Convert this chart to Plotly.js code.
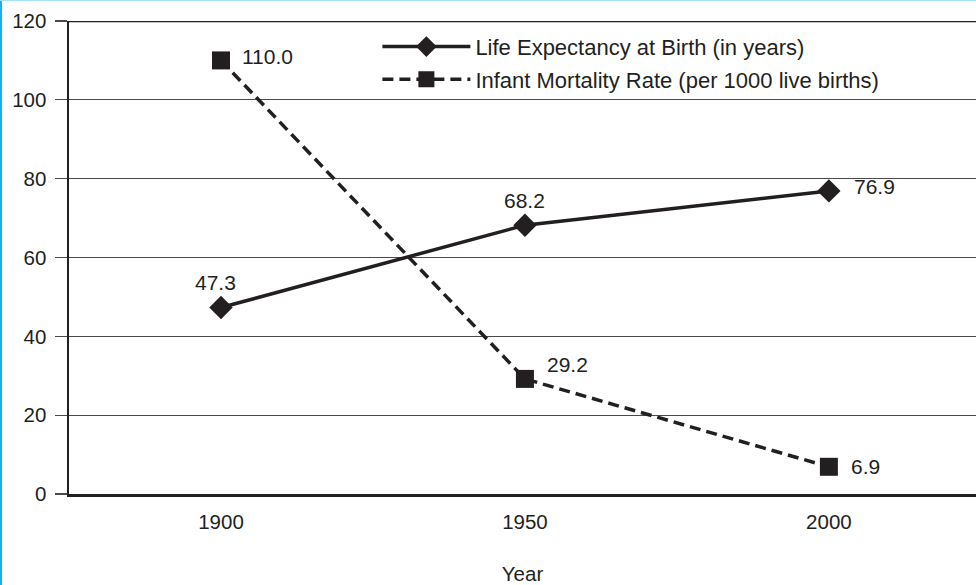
<!DOCTYPE html>
<html><head><meta charset="utf-8">
<script src="https://cdn.plot.ly/plotly-3.0.1.min.js"></script>
<style>
html,body{margin:0;padding:0;background:#fff;}
#wrap{position:relative;width:976px;height:585px;overflow:hidden;}
#edgeL{position:absolute;left:0;top:0;width:2px;height:585px;background:#1ab0ea;z-index:5;}
#edgeT{position:absolute;left:0;top:0;width:976px;height:1px;background:#a6e3f7;z-index:5;}
#chart{width:976px;height:585px;}
</style></head>
<body><div id="wrap"><div id="edgeL"></div><div id="edgeT"></div><div id="chart"></div></div>
<script>
const years = [1900, 1950, 2000];
const lifeExpectancy = [47.3, 68.2, 76.9];
const infantMortality = [110.0, 29.2, 6.9];
const yTicks = [0, 20, 40, 60, 80, 100, 120];
const seriesNames = ["Life Expectancy at Birth (in years)", "Infant Mortality Rate (per 1000 live births)"];

const ink = '#231f20';
const fam = 'Liberation Sans, Arial, sans-serif';
const font = {family: fam, size: 21, color: ink};
const legendFont = {family: fam, size: 22, color: ink};
const tickFont = {family: fam, size: 20.5, color: ink};

const traces = [
  {x: years, y: lifeExpectancy, name: seriesNames[0], legendgroup: 'a', type: 'scatter', mode: 'lines+markers',
   line: {color: ink, width: 3.5}, marker: {symbol: 'diamond', size: 18, color: ink}, hoverinfo: 'none'},
  {x: years, y: infantMortality, name: seriesNames[1], legendgroup: 'b', type: 'scatter', mode: 'lines+markers',
   line: {color: ink, width: 3.5, dash: '11px,6px'}, marker: {symbol: 'square', size: 18, color: ink}, hoverinfo: 'none'}
];

// label placement (styling only): [xanchor, xshift, yshift]
const lifePlace = [['center', -5, 25], ['center', 0, 25], ['left', 23, 4]];
const infPlace = [['left', 19, 4], ['left', 20, 14], ['left', 20, 0]];
const annotations = [];
years.forEach((yr, i) => {
  annotations.push({x: yr, y: lifeExpectancy[i], xref: 'x', yref: 'y', text: lifeExpectancy[i].toFixed(1),
    showarrow: false, font: font, xanchor: lifePlace[i][0], yanchor: 'middle', xshift: lifePlace[i][1], yshift: lifePlace[i][2]});
  annotations.push({x: yr, y: infantMortality[i], xref: 'x', yref: 'y', text: infantMortality[i].toFixed(1),
    showarrow: false, font: font, xanchor: infPlace[i][0], yanchor: 'middle', xshift: infPlace[i][1], yshift: infPlace[i][2]});
});

const layout = {
  width: 976, height: 585,
  margin: {l: 69, r: 0, t: 21, b: 91},
  paper_bgcolor: '#fff', plot_bgcolor: '#fff',
  font: font,
  showlegend: true,
  legend: {x: 0.34, y: 0.99, xanchor: 'left', yanchor: 'top', bgcolor: 'rgba(0,0,0,0)',
           font: legendFont, tracegroupgap: 1, traceorder: 'grouped', itemwidth: 88},
  xaxis: {range: [1875, 2024.2], tickvals: years, ticktext: years.map(String),
          showgrid: false, zeroline: false, showline: true, linecolor: ink, linewidth: 2.5,
          ticks: '', tickfont: tickFont, ticklabelstandoff: 8,
          title: {text: 'Year', font: tickFont, standoff: 38}},
  yaxis: {range: [0, 120], tickvals: yTicks, showgrid: true, gridcolor: '#4a4a4a', gridwidth: 1.2,
          zeroline: false, showline: true, linecolor: ink, linewidth: 2.5,
          ticks: 'outside', ticklen: 12, tickcolor: '#4a4a4a', tickwidth: 1.2,
          tickfont: tickFont, ticklabelstandoff: 4},
  annotations: annotations,
  shapes: [{type: 'line', xref: 'paper', yref: 'y', x0: 0, x1: 1, y0: 120, y1: 120,
            line: {color: ink, width: 2.5}}]
};

Plotly.newPlot('chart', traces, layout, {staticPlot: true, displayModeBar: false});
</script></body></html>
